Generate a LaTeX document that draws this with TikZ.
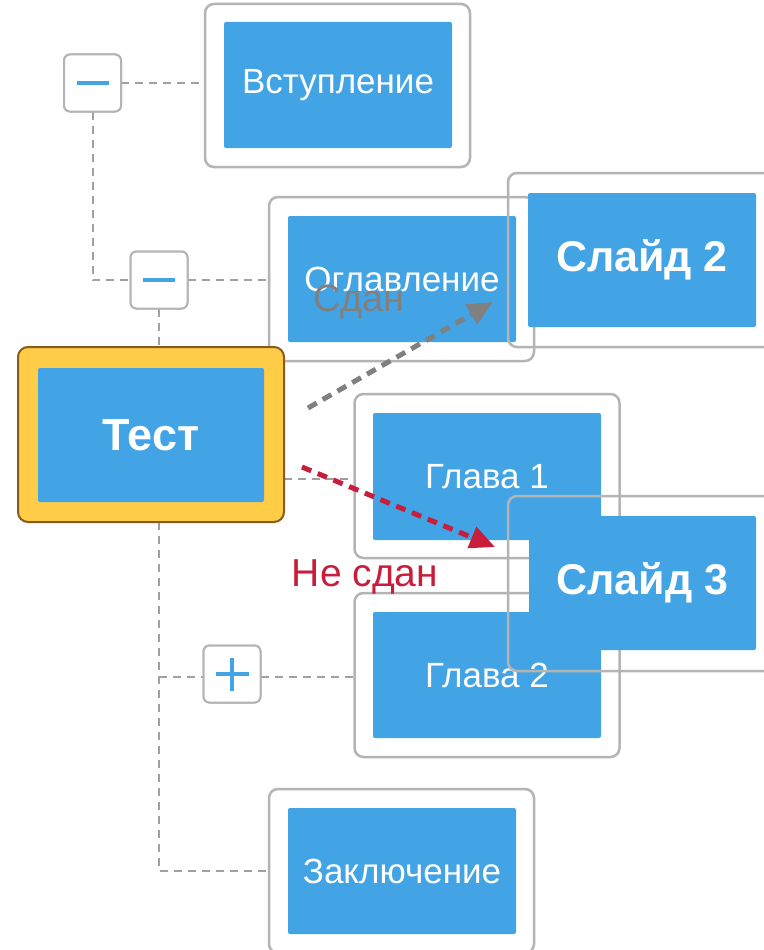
\documentclass[tikz,border=0pt]{standalone}
\usepackage{fontspec}
\setmainfont{Liberation Sans}
\usetikzlibrary{arrows.meta}
\definecolor{slblue}{HTML}{42A4E4}
\definecolor{framegray}{HTML}{B4B4B4}
\definecolor{dashgray}{HTML}{A0A0A0}
\definecolor{arrgray}{HTML}{808080}
\definecolor{arrred}{HTML}{C81E3C}
\definecolor{testyellow}{HTML}{FFCC47}
\definecolor{testbrown}{HTML}{8A5A19}
\begin{document}
\begin{tikzpicture}[x=1pt,y=-1pt,
  frame/.style={draw=framegray, line width=2.5pt, rounded corners=9pt, inner sep=0pt, outer sep=0pt, minimum width=265pt, minimum height=164pt},
  openframe/.style={frame, fill=none},
  whiteframe/.style={frame, fill=white},
  bluebox/.style={fill=slblue, rounded corners=2pt, inner sep=0pt, outer sep=0pt, text=white, minimum width=228pt, minimum height=126pt, font=\fontsize{35}{40}\selectfont},
  boldbox/.style={bluebox, font=\fontsize{43}{48}\selectfont\bfseries},
  ctrl/.style={draw=framegray, fill=white, line width=2pt, rounded corners=6pt, minimum size=57pt, inner sep=0pt, outer sep=0pt},
  sign/.style={draw=slblue, line width=4.5pt},
  conn/.style={draw=dashgray, line width=2pt, dash pattern=on 8pt off 6pt},
  grayarrow/.style={draw=arrgray, line width=5pt, dash pattern=on 10pt off 7pt, -{Triangle[length=25pt,width=22pt,fill=arrgray]}},
  redarrow/.style={draw=arrred, line width=5pt, dash pattern=on 10pt off 7pt, -{Triangle[length=25pt,width=22pt,fill=arrred]}}
]
\useasboundingbox (0,0) rectangle (763,950);
\fill[white] (0,0) rectangle (763,950);

% control boxes (positions first for connectors)
\node[ctrl] (m1) at (92.5,83) {};
\node[ctrl] (m2) at (159,280) {};
\node[ctrl] (plus) at (232,674) {};

% frames (named, drawn later in order)
\path (337.5,85.5) node[frame, draw=none, minimum height=163pt] (vstF) {};
\path (401.5,279) node[frame, draw=none] (oglF) {};
\path (151,434.5) node[minimum width=266pt, minimum height=175pt, inner sep=0pt, outer sep=0pt] (testF) {};
\path (487,476) node[frame, draw=none] (gl1F) {};
\path (487,675) node[frame, draw=none] (gl2F) {};
\path (401.5,871) node[frame, draw=none] (zakF) {};
\coordinate (corner) at (m2.south |- zakF.west);

% connectors
\draw[conn] (m1.east) -- (m1.east -| vstF.west);
\draw[conn] (m1.south) -- (m1.south |- m2.west) -- (m2.west);
\draw[conn] (m2.east) -- (m2.east -| oglF.west);
\draw[conn] (m2.south) -- (m2.south |- testF.north);
\draw[conn] (testF.east |- 0,479) -- (gl1F.west |- 0,479);
\draw[conn] (m2.south |- testF.south) -- (corner) -- (zakF.west);
\draw[conn] (m2.south |- 0,677) -- (plus.west |- 0,677);
\draw[conn] (plus.east |- 0,677) -- (gl2F.west |- 0,677);

% Вступление
\node[whiteframe, minimum height=163pt] at (337.5,85.5) {};
\node[bluebox] (vst) at (338,85) {Вступление};
% Оглавление
\node[whiteframe] at (401.5,279) {};
\node[bluebox] (ogl) at (402,279) {Оглавление};
% Слайд 2
\node[openframe, minimum height=174pt] (sl2F) at (640.5,260) {};
\node[boldbox, minimum height=134pt] (sl2) at (642,260) {Слайд 2};
% Глава 1 and Глава 2
\node[whiteframe] at (487,476) {};
\node[bluebox, minimum height=127pt] (gl1) at (487,476.5) {Глава 1};
\node[whiteframe] at (487,675) {};
\node[bluebox] (gl2) at (487,675) {Глава 2};
% Слайд 3
\node[openframe, minimum height=175pt] (sl3F) at (640.5,583.5) {};
\node[boldbox, minimum width=227pt, minimum height=134pt] (sl3) at (642.5,583) {Слайд 3};
% Заключение
\node[whiteframe] at (401.5,871) {};
\node[bluebox] (zak) at (402,871) {Заключение};

% Тест
\node[draw=testbrown, fill=testyellow, line width=2pt, rounded corners=10pt, minimum width=266pt, minimum height=175pt, inner sep=0pt, outer sep=0pt] at (151,434.5) {};
\node[boldbox, minimum width=226pt, minimum height=134pt, font=\fontsize{45}{50}\selectfont\bfseries] (test) at (151,435) {Тест};

% control boxes drawn on top
\node[ctrl] at (92.5,83) {};
\node[ctrl] at (159,280) {};
\node[ctrl] at (232,674) {};
\draw[sign] ([xshift=-16pt]m1.center) -- ([xshift=16pt]m1.center);
\draw[sign] ([xshift=-16pt]m2.center) -- ([xshift=16pt]m2.center);
\draw[sign] ([xshift=-16.5pt]plus.center) -- ([xshift=16.5pt]plus.center);
\draw[sign] ([yshift=-16.5pt]plus.center) -- ([yshift=16.5pt]plus.center);

% transitions
\coordinate (sA) at (308,408);
\coordinate (sB) at (493,302);
\coordinate (rA) at (302,467);
\coordinate (rB) at (495,547);
\node[text=arrgray, font=\fontsize{38}{42}\selectfont, inner sep=0pt] (sdan) at (359,302) {Сдан};
\draw[grayarrow] (sA) -- (sB);
\draw[redarrow] (rA) -- (rB);
\node[text=arrred, font=\fontsize{39}{44}\selectfont, inner sep=0pt] (nesdan) at (365,577) {Не сдан};
\end{tikzpicture}
\end{document}
